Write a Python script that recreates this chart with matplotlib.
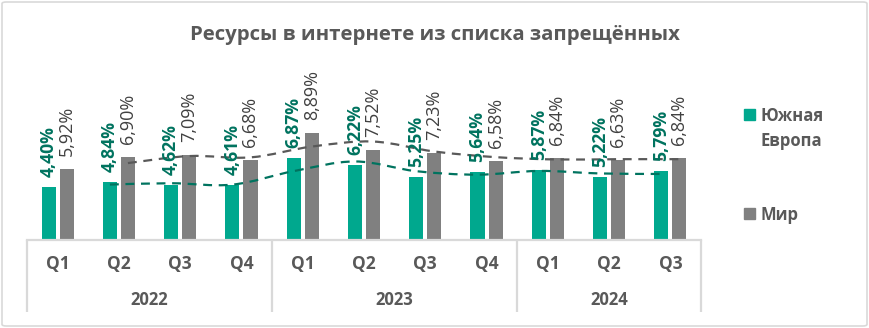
import numpy as np
import pandas as pd
import matplotlib
matplotlib.use('Agg')
import matplotlib.pyplot as plt
from matplotlib.path import Path
from matplotlib.patches import PathPatch, Rectangle, FancyBboxPatch

# ---- data ----
quarters = ['Q1', 'Q2', 'Q3', 'Q4', 'Q1', 'Q2', 'Q3', 'Q4', 'Q1', 'Q2', 'Q3']
years = ['2022', '2023', '2024']
year_sizes = [4, 4, 3]
south_europe = [4.40, 4.84, 4.62, 4.61, 6.87, 6.22, 5.25, 5.64, 5.87, 5.22, 5.79]
world = [5.92, 6.90, 7.09, 6.68, 8.89, 7.52, 7.23, 6.58, 6.84, 6.63, 6.84]
series_names = ['Южная\nЕвропа', 'Мир']
title = 'Ресурсы в интернете из списка запрещённых'

# ---- style ----
FONT = ['Open Sans', 'DejaVu Sans']
plt.rcParams['font.family'] = FONT
GREEN = '#00A88E'
GREEN_DARK = '#00735F'
GREY = '#808080'
GREY_DARK = '#595959'
TEXT = '#595959'
AXISC = '#D9D9D9'

W, H = 869, 328
fig = plt.figure(figsize=(W / 100, H / 100), dpi=100)
AX_L, AX_B, AX_W, AX_H = 27, 88, 674, 168
ax = fig.add_axes([AX_L / W, AX_B / H, AX_W / W, AX_H / H])

x = np.arange(len(quarters))
bw = 0.23
off = 0.147
ax.bar(x - off, south_europe, bw, color=GREEN, zorder=2)
ax.bar(x + off, world, bw, color=GREY, zorder=2)
ax.set_xlim(-0.5, len(x) - 0.5)
ax.set_ylim(0, 14)
for s in ['top', 'left', 'right']:
    ax.spines[s].set_visible(False)
ax.spines['bottom'].set_color(AXISC)
ax.spines['bottom'].set_linewidth(1.6)
ax.set_xticks([])
ax.set_yticks([])


# ---- moving average trendlines (period 2), smoothed ----
def smooth_path(xs, ys):
    pts = np.column_stack([xs, ys])
    n = len(pts)
    verts = [pts[0]]
    codes = [Path.MOVETO]
    for i in range(n - 1):
        p0 = pts[i - 1] if i > 0 else pts[i]
        p1 = pts[i]
        p2 = pts[i + 1]
        p3 = pts[i + 2] if i + 2 < n else pts[i + 1]
        c1 = p1 + (p2 - p0) / 6
        c2 = p2 - (p3 - p1) / 6
        verts += [c1, c2, p2]
        codes += [Path.CURVE4] * 3
    return Path(verts, codes)


for vals, xo, col in [(south_europe, -off, GREEN_DARK), (world, off, GREY_DARK)]:
    ma = pd.Series(vals).rolling(2).mean()
    xs = (x + xo)[1:]
    ys = ma.values[1:]
    ax.add_patch(PathPatch(smooth_path(xs, ys), fill=False, edgecolor=col,
                           lw=1.6, linestyle=(0, (4, 3)), zorder=3))

# ---- data labels ----
for xi, v in zip(x, south_europe):
    ax.annotate(f'{v:.2f}%'.replace('.', ','), xy=(xi - off, v), xytext=(0, 10),
                textcoords='offset pixels', rotation=90, ha='center', va='bottom',
                fontsize=12.7, fontweight='bold', color=GREEN_DARK, zorder=4,
                annotation_clip=False)
for xi, v in zip(x, world):
    ax.annotate(f'{v:.2f}%'.replace('.', ','), xy=(xi + off, v), xytext=(0, 13),
                textcoords='offset pixels', rotation=90, ha='center', va='bottom',
                fontsize=13, color='#404040', zorder=4, annotation_clip=False)

# ---- multi-level category axis ----
trans = ax.get_xaxis_transform()
for xi, q in zip(x, quarters):
    ax.annotate(q, xy=(xi, 0), xycoords=trans, xytext=(0, -24),
                textcoords='offset pixels', ha='center', va='center',
                fontsize=12.5, fontweight='bold', color=TEXT, annotation_clip=False)
start = 0
bounds = [-0.5]
for yr, n in zip(years, year_sizes):
    centre = start + (n - 1) / 2
    ax.annotate(yr, xy=(centre, 0), xycoords=trans, xytext=(0, -60),
                textcoords='offset pixels', ha='center', va='center',
                fontsize=12, fontweight='bold', color=TEXT, annotation_clip=False)
    start += n
    bounds.append(start - 0.5)
for b in bounds:
    ax.plot([b, b], [0, -72 / AX_H], transform=trans, color=AXISC, lw=1.6,
            clip_on=False, solid_capstyle='butt')

# ---- title ----
fig.text(0.5, 1 - 35 / H, title, ha='center', va='center', fontsize=14.7,
         fontweight='bold', color=TEXT)

# ---- legend ----
leg_items = [(series_names[0], GREEN, 114), (series_names[1], GREY, 213)]
for name, col, yc in leg_items:
    fig.add_artist(Rectangle((744 / W, 1 - (yc + 6) / H), 11 / W, 11 / H,
                             transform=fig.transFigure, color=col))
    fig.text(761 / W, 1 - (yc - 7) / H, name, ha='left', va='top', fontsize=12,
             fontweight='bold', color=TEXT, linespacing=1.5)

# ---- border ----
fig.add_artist(FancyBboxPatch((2 / W, 2 / H), (W - 4) / W, (H - 4) / H,
                              boxstyle='round,pad=0,rounding_size=0.005',
                              transform=fig.transFigure, fill=False,
                              edgecolor=AXISC, lw=1.2))

fig.savefig('out.png', dpi=100)
